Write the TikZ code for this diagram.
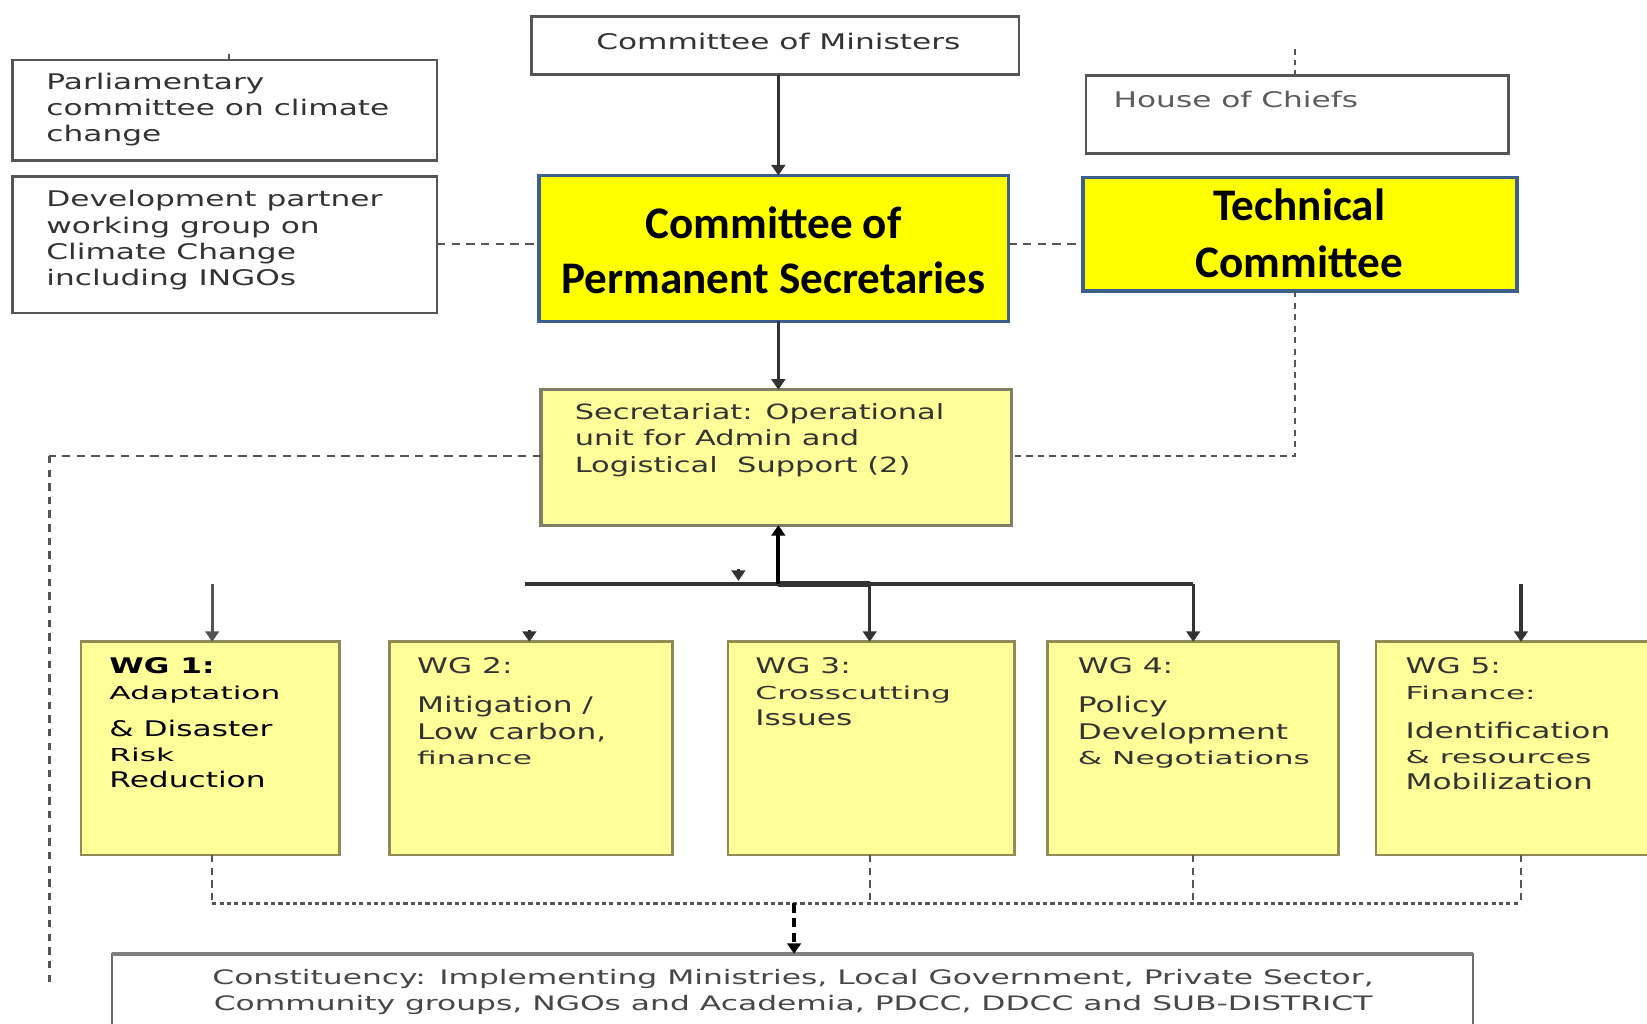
\documentclass[tikz,border=0pt]{standalone}
\usepackage{fontspec}
\setmainfont{DejaVu Sans}
\newfontfamily\fA[FakeStretch=1.45]{DejaVu Sans}
\newfontfamily\fB[FakeStretch=1.75]{DejaVu Sans}
\newfontfamily\fC[FakeStretch=1.57]{DejaVu Sans}
\newfontfamily\fK{Carlito}
\usetikzlibrary{arrows.meta}
\definecolor{lineg}{HTML}{555555}
\definecolor{darkl}{HTML}{333333}
\definecolor{wgfill}{HTML}{FFFF99}
\definecolor{wgdraw}{HTML}{8F8B55}
\definecolor{secdraw}{HTML}{7F7F68}
\definecolor{bluedraw}{HTML}{3C5F8C}
\definecolor{txtg}{HTML}{333333}
\definecolor{cpsy}{HTML}{FFFF00}
\begin{document}
\begin{tikzpicture}[x=1pt,y=-1pt,
  boxbase/.style={anchor=north west, inner sep=0pt, outer sep=0pt},
  wbox/.style={boxbase, draw=lineg, line width=2.5pt, fill=white},
  ybox/.style={boxbase, draw=bluedraw, line width=3.5pt, fill=cpsy},
  secbox/.style={boxbase, draw=secdraw, line width=3pt, fill=wgfill},
  wgbox/.style={boxbase, draw=wgdraw, line width=2.5pt, fill=wgfill},
  cbox/.style={boxbase, draw=gray!85!black, line width=2pt, fill=white},
  tA/.style={inner sep=0pt, align=left, anchor=base west, text=txtg, font=\fA\fontsize{20.5}{25}\selectfont},
  tC/.style={inner sep=0pt, align=center, anchor=base, text=txtg!90!white, font=\fC\fontsize{19}{25}\selectfont},
  tK/.style={inner sep=0pt, align=center, anchor=base, text=black, font=\fK\bfseries\fontsize{43}{52}\selectfont},
  tip/.style={-{Triangle[width=13pt,length=10pt]}},
  solidarrow/.style={tip, draw=darkl, line width=3pt},
  dashline/.style={draw=lineg, line width=2pt, dash pattern=on 8pt off 6pt},
  dotline/.style={draw=lineg, line width=2.5pt, dash pattern=on 4pt off 3pt},
]
\useasboundingbox (0,0) rectangle (1568,974);
\fill[white] (0,0) rectangle (1568,974);
\newcommand{\sm}[1]{{\fB\fontsize{17}{25}\selectfont #1}}

% ---- boxes ----
\node[wbox, minimum width=404, minimum height=96] (parl) at (12,57) {};
\node[wbox, minimum width=404, minimum height=130] (dev) at (12,168) {};
\node[wbox, minimum width=464, minimum height=55] (com) at (506,16) {};
\node[wbox, minimum width=402, minimum height=74] (hoc) at (1034,72) {};
\node[ybox, minimum width=447, minimum height=139] (cps) at (513,167) {};
\node[ybox, minimum width=413, minimum height=108] (tc) at (1031,169) {};
\node[secbox, minimum width=448, minimum height=129] (sec) at (515,371) {};
\node[wgbox, minimum width=246, minimum height=203] (wg1) at (77,611) {};
\node[wgbox, minimum width=269, minimum height=203] (wg2) at (371,611) {};
\node[wgbox, minimum width=273, minimum height=203] (wg3) at (693,611) {};
\node[wgbox, minimum width=277, minimum height=203] (wg4) at (997,611) {};
\node[wgbox, minimum width=280, minimum height=203] (wg5) at (1310,611) {};
\node[cbox, minimum width=1295, minimum height=90] (cons) at (107,908) {};
\draw[draw=gray, line width=4pt] (cons.north west) -- (cons.north east);

% ---- texts (anchor = baseline of the last line) ----
\node[tA] (parlt) at (44,135) {Parliamentary\\committee on climate\\change};
\node[tA] (devt) at (44,272) {Development partner\\working group on\\Climate Change\\including INGOs};
\node[tA, anchor=base] (comt) at (741,47) {Committee of Ministers};
\node[tA, text=darkl!80!white] (hoct) at (1060,102) {House of Chiefs};
\node[tK] (cpst) at (736.5,279) {Committee of\\Permanent Secretaries};
\node[tK, font=\fK\bfseries\fontsize{43}{54}\selectfont] (tct) at (1237,264) {Technical\\Committee};
\node[tA, font=\fA\fontsize{20}{25.5}\selectfont] (sect) at (547,450) {Secretariat: Operational\\unit for Admin and\\Logistical~ Support (2)};
\node[tA, text=black] (wg1t) at (104,750) {\textbf{WG 1:}\\\sm{Adaptation}\\[10pt]\& Disaster\\[-1pt]\sm{Risk}\\Reduction};
\node[tA] (wg2t) at (397,728) {WG 2:\\[12pt]Mitigation /\\[1pt]Low carbon,\\[-1pt]\sm{finance}};
\node[tA] (wg3t) at (719,691) {WG 3:\\\sm{Crosscutting}\\Issues};
\node[tA] (wg4t) at (1026,728) {WG 4:\\[12pt]Policy\\[1pt]Development\\[-1pt]\sm{\& Negotiations}};
\node[tA] (wg5t) at (1338,752) {WG 5:\\\sm{Finance:}\\[12pt]Identification\\[-1pt]\sm{\& resources}\\Mobilization};
\node[tC] (const) at (755,962) {Constituency: Implementing Ministries, Local Government, Private Sector,\\Community groups, NGOs and Academia, PDCC, DDCC and SUB-DISTRICT};

% ---- helper coordinates ----
\coordinate (xa) at (741,0);
\coordinate (xtc) at (1233,0);
\coordinate (ytc) at (0,434);
\coordinate (yd) at (0,232);
\coordinate (hoctop) at (1233,47);
\coordinate (leftc) at (47,434);
\coordinate (leftend) at (47,940);
\coordinate (busL) at (500,556);
\coordinate (busM) at (741,556);
\coordinate (bus3) at (828,556);
\coordinate (bus4) at (1136,556);
\coordinate (w1s) at (202,556);
\coordinate (w5s) at (1448,556);
\coordinate (w2s) at (504,600);
\coordinate (hA) at (703,542);
\coordinate (hB) at (703,553);
\coordinate (parltick) at (218,51);
\coordinate (b1) at (202,860);
\coordinate (b3) at (828,860);
\coordinate (b4) at (1136,860);
\coordinate (b5) at (1448,860);
\coordinate (bm) at (756,860);

% ---- connectors ----
\draw[solidarrow] (xa |- com.south) -- (xa |- cps.north);
\draw[solidarrow] (xa |- cps.south) -- (xa |- sec.north);
\draw[dashline] (dev.east |- yd) -- (cps.west |- yd);
\draw[dashline] (cps.east |- yd) -- (tc.west |- yd);
\draw[dotline, dash pattern=on 5pt off 5pt] (hoctop) -- (hoctop |- hoc.north);
\draw[dashline, dash pattern=on 6pt off 5pt] (xtc |- tc.south) -- (xtc |- ytc) -- (ytc -| sec.east);
\draw[dashline] (ytc -| sec.west) -- (leftc);
\draw[dashline, line width=3pt, dash pattern=on 7pt off 6pt] (leftc) -- (leftend);
\draw[draw=lineg, line width=1.5pt] (parltick) -- (parltick |- parl.north);
% bus
\draw[draw=darkl, line width=3pt] (busL) -- (bus4);
\draw[draw=darkl, line width=5pt] (busM) -- (bus3);
\draw[tip, draw=black, line width=4pt] (busM) -- (xa |- sec.south);
\draw[solidarrow] (bus3) -- (bus3 |- wg3.north);
\draw[solidarrow] (bus4) -- (bus4 |- wg4.north);
\draw[solidarrow, draw=lineg] (w1s) -- (w1s |- wg1.north);
\draw[solidarrow] (w5s) -- (w5s |- wg5.north);
\draw[solidarrow] (w2s) -- (w2s |- wg2.north);
\draw[solidarrow] (hA) -- (hB);
% bottom
\draw[dashline, dash pattern=on 7pt off 5pt] (b1 |- wg1.south) -- (b1);
\draw[dashline, dash pattern=on 7pt off 5pt] (b3 |- wg3.south) -- (b3);
\draw[dashline, dash pattern=on 7pt off 5pt] (b4 |- wg4.south) -- (b4);
\draw[dashline, dash pattern=on 7pt off 5pt] (b5 |- wg5.south) -- (b5);
\draw[dotline, line width=3pt] (b1) -- (b5);
\draw[tip, draw=black, line width=4pt, dash pattern=on 9pt off 5pt] (bm) -- (bm |- cons.north);
\end{tikzpicture}
\end{document}
